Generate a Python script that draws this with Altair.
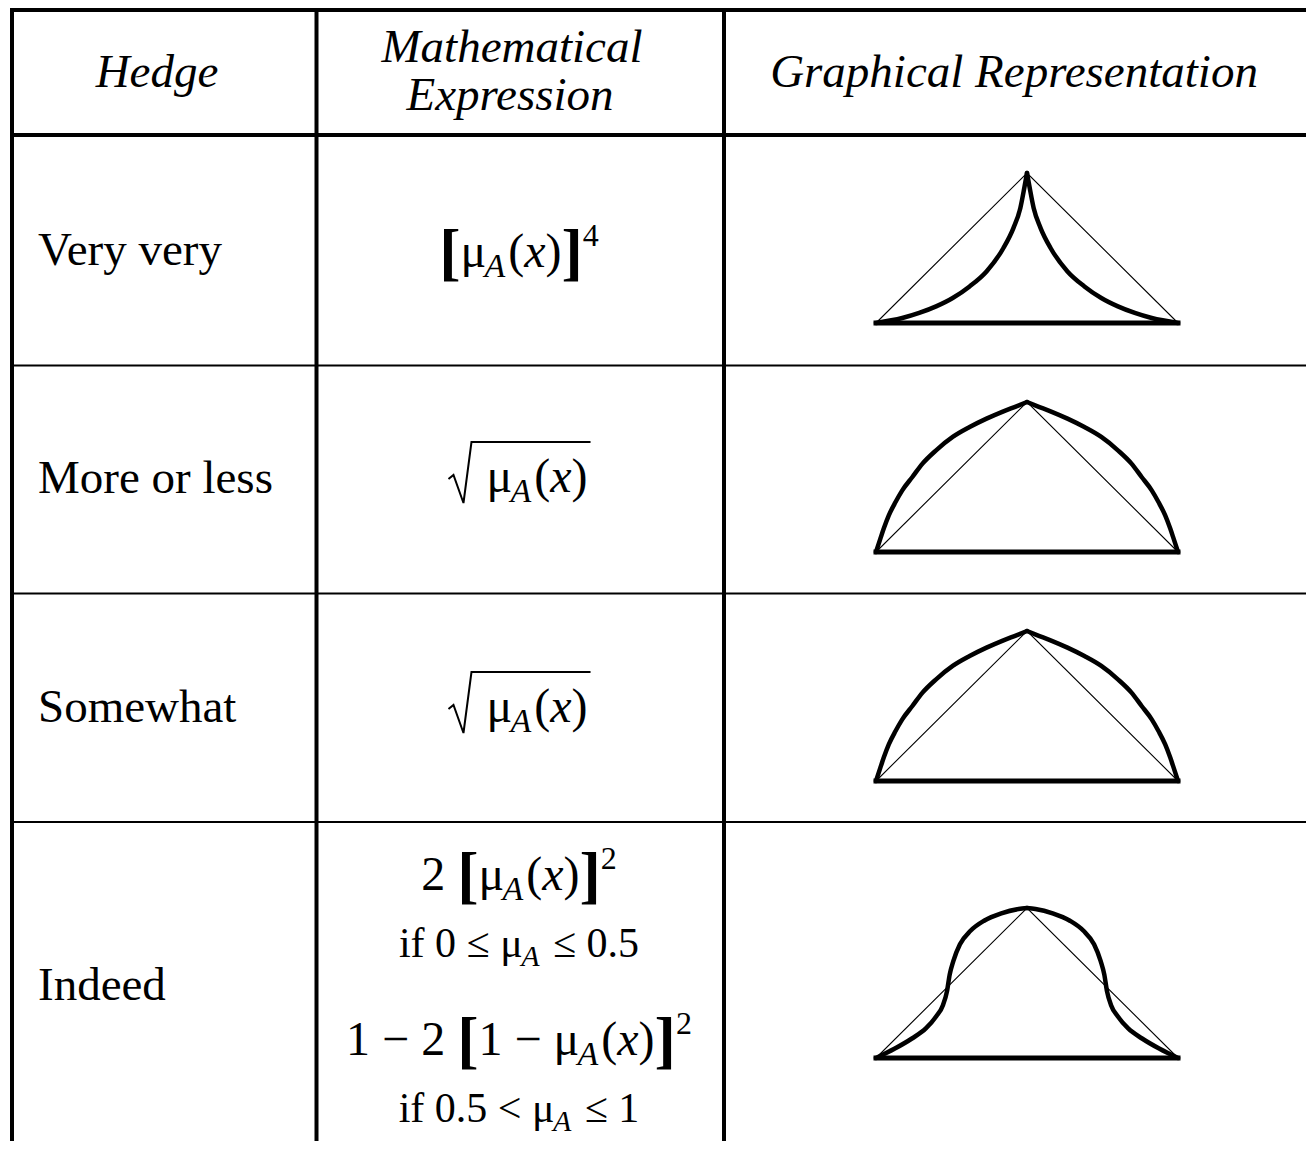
import altair as alt
import pandas as pd

# ---------------- data ----------------
header_titles = ["Hedge", "Mathematical", "Expression", "Graphical Representation"]
hedges = ["Very very", "More or less", "Somewhat", "Indeed"]

# mathematical expressions as (text piece, style) lists
expr_very_very = [("[", "big"), ("μ", "n"), ("A", "sub"), ("(", "n"), ("x", "i"), (")", "n"),
                  ("]", "big"), ("4", "sup")]
expr_more_or_less = [("μ", "n"), ("A", "sub"), ("(", "n"), ("x", "i"), (")", "n")]
expr_somewhat = [("μ", "n"), ("A", "sub"), ("(", "n"), ("x", "i"), (")", "n")]
expr_indeed_1 = [("2 ", "n"), ("[", "big"), ("μ", "n"), ("A", "sub"), ("(", "n"), ("x", "i"),
                 (")", "n"), ("]", "big"), ("2", "sup")]
expr_indeed_2 = [("if 0 ≤ ", "cn"), ("μ", "cn"), ("A", "csub"), (" ≤ 0.5", "cn")]
expr_indeed_3 = [("1 − 2 ", "n"), ("[", "big"), ("1 − ", "n"), ("μ", "n"), ("A", "sub"), ("(", "n"),
                 ("x", "i"), (")", "n"), ("]", "big"), ("2", "sup")]
expr_indeed_4 = [("if 0.5 < ", "cn"), ("μ", "cn"), ("A", "csub"), (" ≤ 1", "cn")]

# hedge curves, left half (u: 0 -> 0.5 of the base, v: 0 -> 1 of the height)
very_very_u = [0, .087, .143, .199, .254, .310, .366, .422, .455, .478, .491, .5]
very_very_v = [0, .033, .067, .111, .167, .244, .344, .500, .633, .767, .900, 1]
more_or_less_u = [0, .0145, .0257, .0424, .0647, .087, .1205, .154, .199, .254, .310, .366,
                  .422, .467, .5]
more_or_less_v = [0, .089, .156, .244, .333, .411, .500, .589, .678, .767, .833, .889,
                  .938, .973, 1]
somewhat_u = [0, .0145, .0257, .0424, .0647, .087, .1205, .154, .199, .254, .310, .366,
              .422, .467, .5]
somewhat_v = [0, .089, .156, .244, .333, .411, .500, .589, .678, .767, .833, .889,
              .938, .973, 1]
indeed_u = [0, .0625, .119, .165, .199, .222, .235, .244, .256, .278, .313, .358, .415, .472, .5]
indeed_v = [0, .063, .130, .197, .276, .354, .444, .556, .646, .758, .848, .915, .964, .993, 1]

# ---------------- layout ----------------
PAGE_W, PAGE_H, MARGIN = 1314, 1149, 8
VIEW_R, VIEW_B = PAGE_W - MARGIN, PAGE_H - MARGIN   # visible area without scrollbars
FONT = "Liberation Serif"

col_lines = [12, 316.5, 724]
thick_rows = [10, 135]
thin_rows = [365.5, 593.5, 822]

label_x = 38
label_base = [265, 493, 722, 1000]
math_cx = 519
expr_rows = [
    (expr_very_very, 267, False),
    (expr_more_or_less, 492, True),
    (expr_somewhat, 722, True),
    (expr_indeed_1, 890, False),
    (expr_indeed_2, 957, False),
    (expr_indeed_3, 1055, False),
    (expr_indeed_4, 1122, False),
]
draw_left = 876
draw_w, draw_h = 302, 150
draw_base = [323, 552, 781, 1058]

SIZE = {"n": 48, "i": 48, "sub": 34, "sup": 32, "big": 64, "cn": 42, "csub": 30}
DY = {"n": 0, "i": 0, "sub": 10, "sup": -21, "big": 6, "cn": 0, "csub": 9}
ITALIC = {"i", "sub", "csub"}
W_REG = {" ": .25, "(": .333, ")": .333, "[": .333, "]": .333, ".": .25, "<": .564,
         "≤": .549, "−": .564, "f": .333, "i": .278, "μ": .5}
W_IT = {"x": .444, "A": .611}
SUB_GAP = 3


def char_w(c, italic):
    if italic and c in W_IT:
        return W_IT[c]
    return W_REG.get(c, .5)


def layout_line(segs, cx, base):
    items, x = [], 0.0
    for t, k in segs:
        size = SIZE[k]
        it = k in ITALIC
        lead = len(t) - len(t.lstrip(" "))
        w = sum(char_w(c, it) for c in t) * size
        items.append((t.strip(), k, x + lead * .25 * size))
        x += w + (SUB_GAP if k in ("sub", "csub") else 0)
    start = cx - x / 2
    rows = [dict(t=t, k=k, px=start + off, py=base + DY[k]) for t, k, off in items if t]
    return rows, start, start + x


RAD_W = 36
seg_rows, rad_rows = [], []
for ri, (segs, base, radical) in enumerate(expr_rows):
    cx = math_cx + (RAD_W / 2 if radical else 0)
    rows, cs, ce = layout_line(segs, cx, base)
    seg_rows += rows
    if radical:
        pts = [(cs - 38, base - 13), (cs - 33, base - 17), (cs - 23, base + 11),
               (cs - 15, base - 50), (ce + 3, base - 50)]
        for o, (a, b) in enumerate(pts):
            rad_rows.append(dict(key=f"r{ri}", o=o, px=a, py=b))
seg_df = pd.DataFrame(seg_rows)
rad_df = pd.DataFrame(rad_rows)

# grid lines
grid = []
for y in thick_rows:
    grid.append(dict(x=10, x2=VIEW_R, y=y, y2=y, w=4))
for x in col_lines:
    grid.append(dict(x=x, x2=x, y=MARGIN, y2=VIEW_B, w=4))
for y in thin_rows:
    grid.append(dict(x=12, x2=VIEW_R, y=y, y2=y, w=2))
grid_df = pd.DataFrame(grid)

# drawings: triangle (thin), base (thick), hedge curve as two halves (thick)
curves = [(very_very_u, very_very_v), (more_or_less_u, more_or_less_v),
          (somewhat_u, somewhat_v), (indeed_u, indeed_v)]
draw_rows = []
for i, (u, v) in enumerate(curves):
    left = list(zip(u, v))
    right = [(1 - a, b) for a, b in reversed(left)]
    parts = {"tri": [(0, 0), (0.5, 1), (1, 0)], "base": [(0, 0), (1, 0)],
             "curveL": left, "curveR": right}
    for part, pts in parts.items():
        for o, (a, b) in enumerate(pts):
            draw_rows.append(dict(key=f"{i}-{part}", part=part, o=o,
                                  px=draw_left + a * draw_w,
                                  py=draw_base[i] - b * draw_h))
draw_df = pd.DataFrame(draw_rows)

header_df = pd.DataFrame({
    "t": header_titles,
    "px": [157, 512, 510, 1014],
    "py": [87, 62, 110, 87],
})
label_df = pd.DataFrame({"t": hedges, "px": [label_x] * 4, "py": label_base})

# ---------------- chart ----------------
xs = alt.Scale(domain=[MARGIN, VIEW_R], nice=False, zero=False)
ys = alt.Scale(domain=[MARGIN, VIEW_B], nice=False, zero=False, reverse=True)
X = alt.X("px:Q", scale=xs, axis=None)
Y = alt.Y("py:Q", scale=ys, axis=None)

grid_layer = alt.Chart(grid_df).mark_rule(color="black").encode(
    x=alt.X("x:Q", scale=xs, axis=None), x2="x2:Q",
    y=alt.Y("y:Q", scale=ys, axis=None), y2="y2:Q",
    size=alt.Size("w:Q", scale=None, legend=None),
)

base_draw = alt.Chart(draw_df).encode(x=X, y=Y, detail="key:N", order="o:Q")
tri_layer = base_draw.transform_filter(alt.datum.part == "tri").mark_line(
    color="black", strokeWidth=1.1)
base_layer = base_draw.transform_filter(alt.datum.part == "base").mark_line(
    color="black", strokeWidth=5, strokeCap="square")
curve_layer = base_draw.transform_filter(
    (alt.datum.part == "curveL") | (alt.datum.part == "curveR")).mark_line(
    color="black", strokeWidth=4.5, strokeJoin="round", strokeCap="round",
    interpolate="monotone")

rad_layer = alt.Chart(rad_df).mark_line(color="black", strokeWidth=2, strokeJoin="miter").encode(
    x=X, y=Y, detail="key:N", order="o:Q")

header_layer = alt.Chart(header_df).mark_text(
    font=FONT, fontSize=47, fontStyle="italic", align="center", baseline="alphabetic",
    color="black").encode(x=X, y=Y, text="t:N")
label_layer = alt.Chart(label_df).mark_text(
    font=FONT, fontSize=47, align="left", baseline="alphabetic", color="black").encode(
    x=X, y=Y, text="t:N")

seg_layers = []
for k in SIZE:
    sub = seg_df[seg_df["k"] == k]
    if sub.empty:
        continue
    seg_layers.append(alt.Chart(sub).mark_text(
        font=FONT, fontSize=SIZE[k], fontStyle="italic" if k in ITALIC else "normal",
        fontWeight="bold" if k == "big" else "normal",
        align="left", baseline="alphabetic", color="black").encode(x=X, y=Y, text="t:N"))

chart = alt.layer(
    grid_layer, tri_layer, base_layer, curve_layer, rad_layer,
    header_layer, label_layer, *seg_layers,
).properties(
    width=VIEW_R - MARGIN, height=VIEW_B - MARGIN,
    autosize=alt.AutoSizeParams(type="none"), padding=0, background="white",
).configure_view(stroke=None)

chart.save("out.html", embed_options={"renderer": "svg", "actions": False})
